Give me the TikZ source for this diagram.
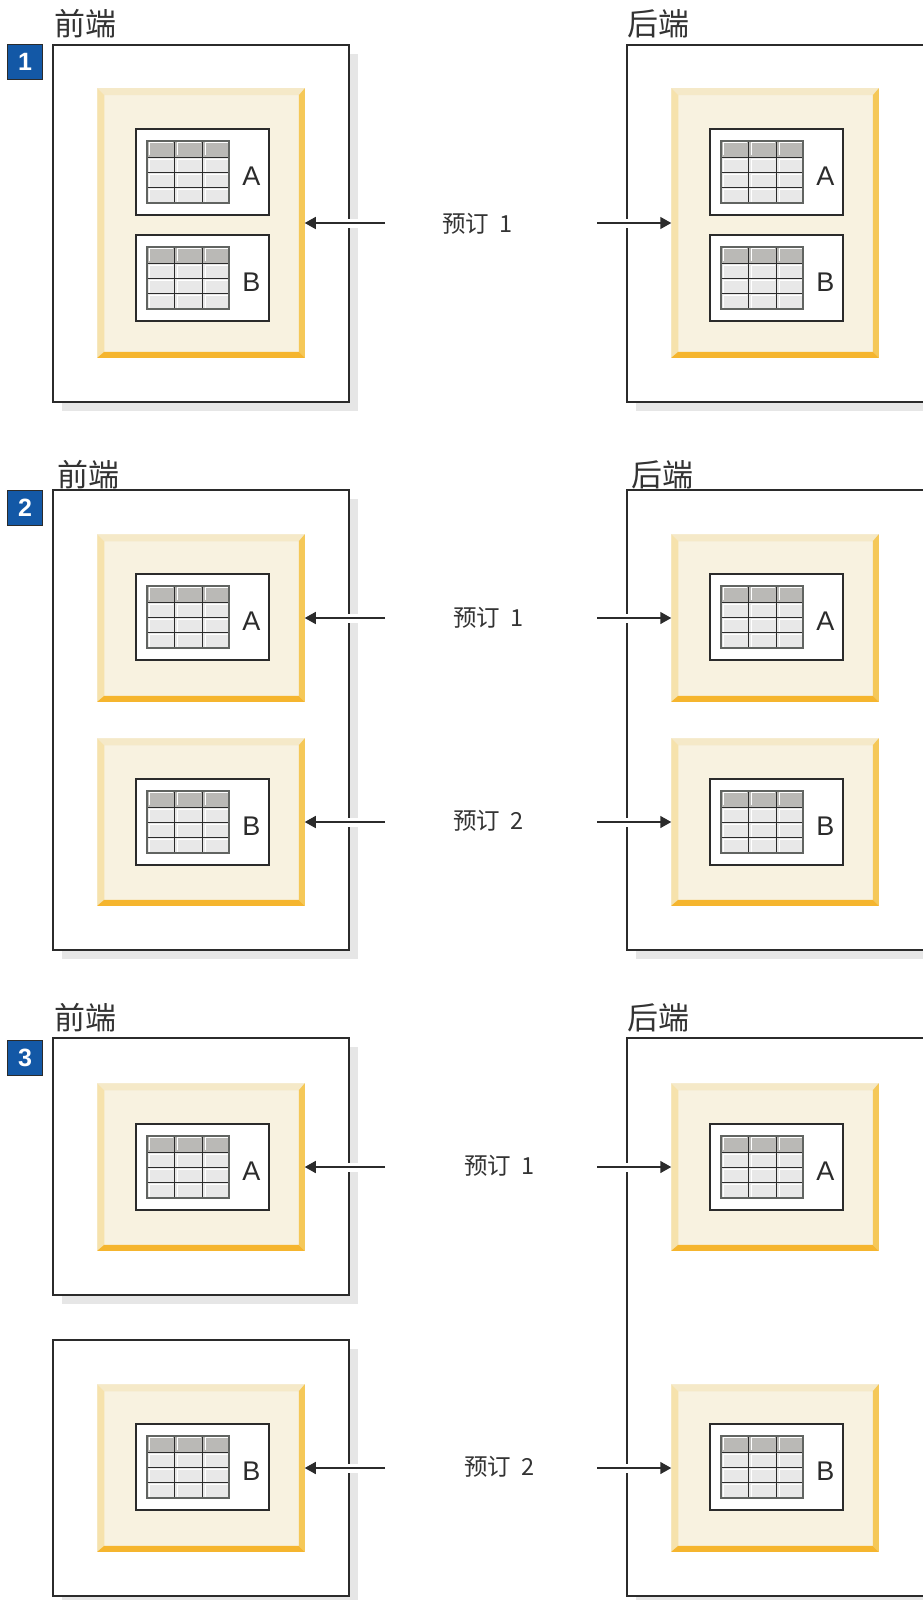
\documentclass[tikz,border=0pt]{standalone}
\usepackage{fontspec}
\setmainfont{Noto Sans CJK SC}
\newfontfamily\latinfont{Liberation Sans}
\usetikzlibrary{arrows.meta, positioning, shadows}

\definecolor{linedark}{HTML}{2B2B2B}
\definecolor{textdark}{HTML}{333333}
\definecolor{shadowgray}{HTML}{E6E6E6}
\definecolor{creamfill}{HTML}{F8F2E0}
\definecolor{beveltop}{HTML}{F5E9C8}
\definecolor{bevelleft}{HTML}{F6E2AC}
\definecolor{bevelright}{HTML}{F5C858}
\definecolor{bevelbottom}{HTML}{F5B52E}
\definecolor{badgeblue}{HTML}{1358A6}
\definecolor{gridgray}{HTML}{616461}
\definecolor{headgray}{HTML}{BAB9B6}
\definecolor{cellgray}{HTML}{E8E8E8}

\tikzset{
    outerbox/.style={draw=linedark, fill=white, line width=1.4pt, outer sep=0pt, minimum width=296pt, minimum height=#1,
        drop shadow={shadow xshift=9pt, shadow yshift=-9pt, fill=shadowgray, opacity=1}},
    bevelbox/.style={fill=creamfill, outer sep=0pt, minimum width=207.5pt, minimum height=#1,
        path picture={
            \fill[beveltop] (path picture bounding box.north west) -- (path picture bounding box.north east)
                -- ([shift={(-6pt,-7pt)}]path picture bounding box.north east) -- ([shift={(7pt,-7pt)}]path picture bounding box.north west) -- cycle;
            \fill[bevelleft] (path picture bounding box.north west) -- (path picture bounding box.south west)
                -- ([shift={(7pt,6pt)}]path picture bounding box.south west) -- ([shift={(7pt,-7pt)}]path picture bounding box.north west) -- cycle;
            \fill[bevelright] (path picture bounding box.north east) -- (path picture bounding box.south east)
                -- ([shift={(-6pt,6pt)}]path picture bounding box.south east) -- ([shift={(-6pt,-7pt)}]path picture bounding box.north east) -- cycle;
            \fill[bevelbottom] (path picture bounding box.south west) -- (path picture bounding box.south east)
                -- ([shift={(-6pt,6pt)}]path picture bounding box.south east) -- ([shift={(7pt,6pt)}]path picture bounding box.south west) -- cycle;
        }},
    itembox/.style={draw=linedark, fill=white, line width=1.4pt, outer sep=0pt, minimum width=133pt, minimum height=86pt},
    letterlabel/.style={font=\latinfont\fontsize{27}{27}\selectfont, text=linedark, inner sep=0pt},
    badge/.style={draw=linedark, fill=badgeblue, line width=1pt, minimum size=35pt, inner sep=0pt, text=white, font=\latinfont\bfseries\fontsize{25}{25}\selectfont},
    sidelabel/.style={anchor=west, inner sep=0pt, text=textdark, font=\fontsize{31}{31}\selectfont},
    subslabel/.style={anchor=west, inner sep=0pt, text=textdark, font=\fontsize{23.5}{24}\selectfont},
    link/.style={-{Triangle[length=11pt,width=12pt]}, draw=linedark, line width=1.5pt, preaction={draw=white, line width=9pt, -}},
    dbtable/.pic={
        \fill[cellgray] (0,0) rectangle (84,64);
        \fill[headgray] (0,0) rectangle (84,17);
        \foreach \c in {0,28,56} \foreach \r in {0,17,32,47} {
            \draw[white, line width=1pt] (\c+3,\r+15) -- (\c+3,\r+2.5) -- (\c+27,\r+2.5);
        }
        \draw[linedark, line width=1pt] (28,0) -- (28,64) (56,0) -- (56,64) (0,17) -- (84,17) (0,32) -- (84,32) (0,47.5) -- (84,47.5);
        \draw[gridgray, line width=2.4pt] (1.2,1.2) rectangle (82.8,62.8);
    }
}

\newcommand{\dbitem}[4]{%
    \node[itembox] (#1) at (#2,#3) {};
    \pic at ([shift={(-56.5pt,32pt)}]#1.center) {dbtable};
    \node[letterlabel, left=8.5pt of #1.east, yshift=-4.5pt] (#1t) {#4};
}

\begin{document}
\begin{tikzpicture}[x=1pt, y=-1pt]
    \useasboundingbox (0,0) rectangle (922,1600);
    \coordinate (tailf) at (385,0);
    \coordinate (tailb) at (597,0);

    % Outer boxes
    \node[outerbox=357pt] (top f) at (201,223.5) {};
    \node[outerbox=357pt, minimum width=300pt] (top b) at (777,223.5) {};
    \node[outerbox=460pt] (mid f) at (201,720) {};
    \node[outerbox=460pt, minimum width=300pt] (mid b) at (777,720) {};
    \node[outerbox=257pt] (low f) at (201,1166.5) {};
    \node[outerbox=256pt] (end f) at (201,1468) {};
    \node[outerbox=558pt, minimum width=300pt] (low b) at (777,1317) {};

    % Badges and side labels
    \node[badge] (n1) at (25,62) {1};
    \node[badge] (n2) at (25,507.5) {2};
    \node[badge] (n3) at (25,1058) {3};
    \node[sidelabel] (ft) at (54,23.5) {前端};
    \node[sidelabel] (bt) at (627,23.5) {后端};
    \node[sidelabel] (fm) at (57,474.5) {前端};
    \node[sidelabel] (bm) at (631,474.5) {后端};
    \node[sidelabel] (fl) at (54,1017.5) {前端};
    \node[sidelabel] (bl) at (627,1017.5) {后端};

    % Replicated tables
    \foreach \cx/\sd in {201/f,775/b} {
        \node[bevelbox=269.5pt] (y1\sd) at (\cx,223) {};
        \dbitem{a1\sd}{\cx+1.5}{172}{A}
        \dbitem{b1\sd}{\cx+1.5}{278}{B}
        \node[bevelbox=167.5pt] (y2\sd) at (\cx,618) {};
        \dbitem{a2\sd}{\cx+1.5}{617}{A}
        \node[bevelbox=167.5pt] (y3\sd) at (\cx,822) {};
        \dbitem{b2\sd}{\cx+1.5}{822}{B}
        \node[bevelbox=167.5pt] (y4\sd) at (\cx,1167) {};
        \dbitem{a3\sd}{\cx+1.5}{1167}{A}
        \node[bevelbox=167.5pt] (y5\sd) at (\cx,1468) {};
        \dbitem{b3\sd}{\cx+1.5}{1467}{B}
    }

    % Subscriptions
    \node[subslabel] (s1) at (442,224) {预订\ \ 1};
    \node[subslabel] (s2) at (453,618) {预订\ \ 1};
    \node[subslabel] (s3) at (453,821) {预订\ \ 2};
    \node[subslabel] (s4) at (464,1166) {预订\ \ 1};
    \node[subslabel] (s5) at (464,1467) {预订\ \ 2};
    \foreach \y in {1,...,5} {
        \draw[link] (tailf |- y\y f.east) -- (y\y f.east);
        \draw[link] (tailb |- y\y b.west) -- (y\y b.west);
    }
\end{tikzpicture}
\end{document}
